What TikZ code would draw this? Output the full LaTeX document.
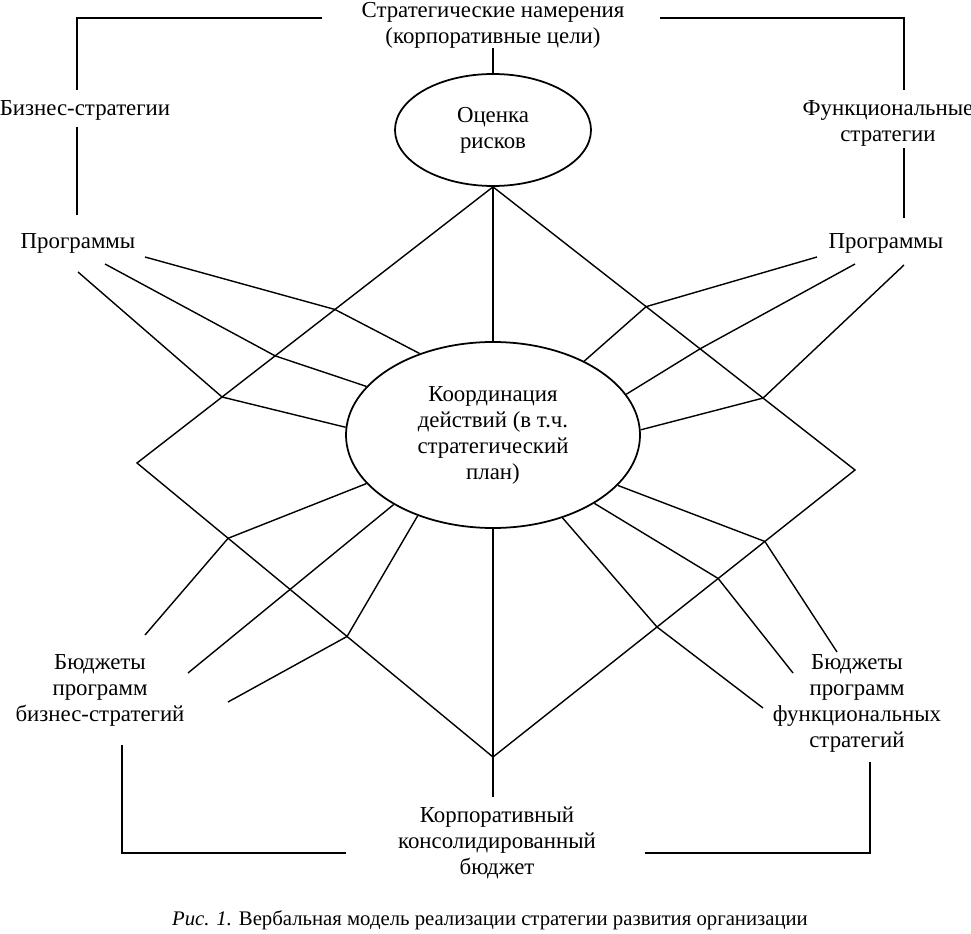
\documentclass[tikz,border=0pt]{standalone}
\usepackage{fontspec}
\setmainfont{Liberation Serif}
\usetikzlibrary{calc,shapes.geometric}

\begin{document}
\begin{tikzpicture}[
        x=0.2mm, y=-0.2mm,
        txt/.style={
            align=center,
            inner sep=0pt,
            font=\fontsize{13}{14.8}\selectfont
        },
        oval/.style={
            ellipse,
            draw=black,
            line width=1pt,
            align=center,
            inner sep=0pt,
            font=\fontsize{13}{14.8}\selectfont
        },
        link/.style={
            draw=black,
            line width=0.8pt
        }
    ]

    \useasboundingbox (0,0) rectangle (971,934);

    \node[txt] (goals) at (493,25) {Стратегические намерения\\(корпоративные цели)};
    \node[oval, minimum width=39.2mm, minimum height=22.4mm] (risk) at (493,130) {Оценка\\рисков};
    \node[oval, minimum width=58.8mm, minimum height=37.2mm] (coord) at (493,435) {Координация\\действий (в т.ч.\\стратегический\\план)};

    \node[txt] (biz)   at (85,110)  {Бизнес-стратегии};
    \node[txt] (progl) at (78,243)  {Программы};
    \node[txt] (func)  at (888,123) {Функциональные\\стратегии};
    \node[txt] (progr) at (886,243) {Программы};
    \node[txt] (budl)  at (100,690) {Бюджеты\\программ\\бизнес-стратегий};
    \node[txt] (budr)  at (857,703) {Бюджеты\\программ\\функциональных\\стратегий};
    \node[txt] (corp)  at (497,843) {Корпоративный\\консолидированный\\бюджет};
    \node[txt, font=\fontsize{11.8}{13}\selectfont] (caption) at (490,920) {\textit{Рис. 1.} Вербальная модель реализации стратегии развития организации};

    % frame lines
    \coordinate (tl)    at (322,18);
    \coordinate (bizt)  at (77,90);
    \coordinate (bizb)  at (77,127);
    \coordinate (proglt) at (77,215);
    \coordinate (tr)    at (660,18);
    \coordinate (funct) at (904,90);
    \coordinate (funcb) at (904,148);
    \coordinate (progrt) at (904,218);
    \coordinate (budlb) at (122,745);
    \coordinate (corpl) at (346,853);
    \coordinate (corpr) at (645,853);
    \coordinate (budrb) at (870,762);
    \coordinate (corpt) at (493,797);

    \draw[link] (tl) -| (bizt);
    \draw[link] (bizb) -- (proglt);
    \draw[link] (tr) -| (funct);
    \draw[link] (funcb) -- (progrt);
    \draw[link] (budlb) |- (corpl);
    \draw[link] (corpr) -| (budrb);

    \draw[link] (goals.south) -- (risk.north);
    \draw[link] (risk.south) -- (coord.north);
    \draw[link] (coord.south) -- (corpt);

    % diamond
    \coordinate (dl) at (137,463);
    \coordinate (dr) at (855,470);
    \coordinate (db) at (493,757);
    \draw[link] (risk.south) -- (dl) -- (db) -- (dr) -- cycle;

    \coordinate (ul1) at ($(risk.south)!0.444!(dl)$);
    \coordinate (ul2) at ($(risk.south)!0.612!(dl)$);
    \coordinate (ul3) at ($(risk.south)!0.761!(dl)$);
    \coordinate (ur1) at ($(risk.south)!0.423!(dr)$);
    \coordinate (ur2) at ($(risk.south)!0.572!(dr)$);
    \coordinate (ur3) at ($(risk.south)!0.746!(dr)$);
    \coordinate (ll1) at ($(dl)!0.256!(db)$);
    \coordinate (ll2) at ($(dl)!0.430!(db)$);
    \coordinate (ll3) at ($(dl)!0.590!(db)$);
    \coordinate (lr1) at ($(dr)!0.249!(db)$);
    \coordinate (lr2) at ($(dr)!0.378!(db)$);
    \coordinate (lr3) at ($(dr)!0.547!(db)$);

    % programmes
    \coordinate (pl1) at (145,257);
    \coordinate (pl2) at (105,264);
    \coordinate (pl3) at (78,272);
    \coordinate (pr1) at (817,257);
    \coordinate (pr2) at (855,264);
    \coordinate (pr3) at (904,265);

    \draw[link] (pl1) -- (ul1) -- (coord.132.8);
    \draw[link] (pl2) -- (ul2) -- (coord.159.4);
    \draw[link] (pl3) -- (ul3) -- (coord.177.7);
    \draw[link] (pr1) -- (ur1) -- (coord.39.1);
    \draw[link] (pr2) -- (ur2) -- (coord.17.4);
    \draw[link] (pr3) -- (ur3) -- (coord.2.4);

    % budgets
    \coordinate (bl1) at (145,635);
    \coordinate (bl2) at (188,673);
    \coordinate (bl3) at (228,702);
    \coordinate (br1) at (837,652);
    \coordinate (br2) at (793,673);
    \coordinate (br3) at (763,708);

    \draw[link] (coord.201.8) -- (ll1) -- (bl1);
    \draw[link] (coord.215)   -- (ll2) -- (bl2);
    \draw[link] (coord.227.5) -- (ll3) -- (bl3);
    \draw[link] (coord.338.8) -- (lr1) -- (br1);
    \draw[link] (coord.326.7) -- (lr2) -- (br2);
    \draw[link] (coord.310.5) -- (lr3) -- (br3);

\end{tikzpicture}
\end{document}
